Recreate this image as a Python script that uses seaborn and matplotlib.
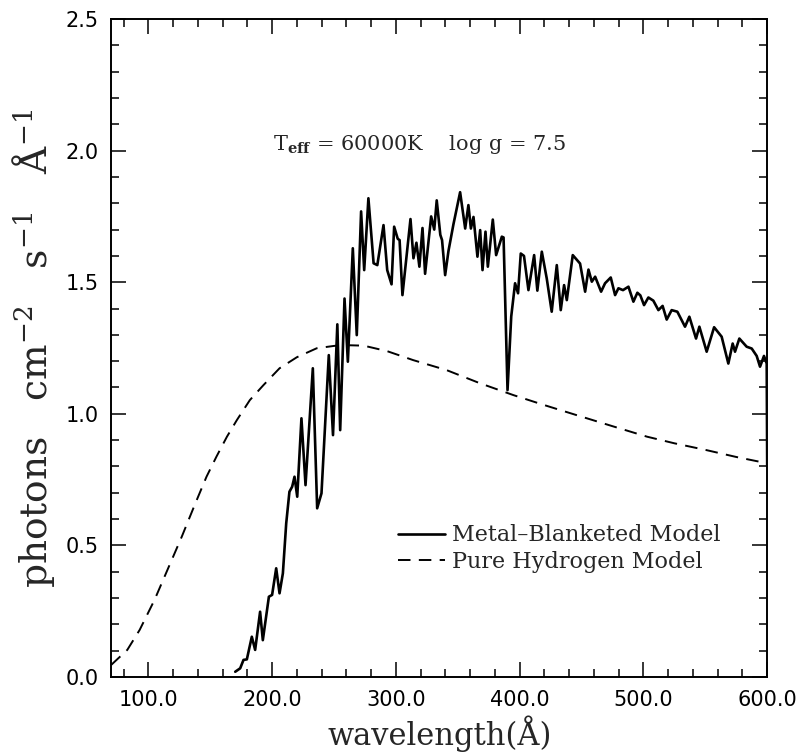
import matplotlib
matplotlib.use("Agg")
import pandas as pd
import matplotlib.pyplot as plt
from matplotlib.ticker import MultipleLocator, FormatStrFormatter
import seaborn as sns

# Metal-blanketed model spectrum
wave_metal = [170.2, 174.2, 176.9, 179.6, 183.6, 186.3, 190.3, 192.5, 197.4, 200.0,
              203.3, 206.0, 208.7, 211.4, 214.0, 216.2, 218.1, 220.3, 223.7, 227.0,
              232.9, 236.4, 239.9, 245.8, 249.2, 252.7, 255.0, 258.5, 261.2, 265.2,
              268.4, 271.9, 274.4, 277.8, 282.0, 285.0, 290.0, 293.0, 296.5, 298.6,
              301.5, 303.0, 305.3, 311.8, 314.2, 316.6, 319.0, 321.5, 323.6, 328.5,
              331.0, 333.0, 335.9, 337.3, 339.8, 342.5, 346.5, 351.9, 356.0, 358.6,
              360.6, 362.7, 365.9, 368.1, 370.0, 372.4, 374.3, 378.3, 381.0, 385.6,
              387.0, 390.2, 393.2, 396.3, 398.7, 400.9, 403.5, 407.1, 411.7, 414.3,
              417.9, 421.9, 425.9, 430.0, 433.2, 435.9, 438.1, 442.9, 448.8, 452.9,
              455.6, 458.3, 461.0, 465.8, 469.0, 473.6, 477.1, 479.8, 483.5, 487.9,
              491.9, 495.1, 497.5, 500.5, 504.0, 508.0, 512.1, 515.5, 518.8, 522.8,
              527.4, 533.6, 537.1, 542.5, 545.2, 551.1, 557.1, 563.2, 568.6, 572.1,
              574.0, 577.5, 583.4, 587.5, 591.5, 594.2, 597.4, 599.6, 600.0]
flux_metal = [0.020, 0.033, 0.065, 0.067, 0.153, 0.103, 0.248, 0.140, 0.305, 0.312,
              0.413, 0.318, 0.394, 0.584, 0.704, 0.723, 0.761, 0.685, 0.983, 0.729,
              1.173, 0.641, 0.698, 1.223, 0.919, 1.340, 0.938, 1.438, 1.198, 1.629,
              1.299, 1.769, 1.546, 1.819, 1.572, 1.565, 1.717, 1.546, 1.492, 1.711,
              1.665, 1.660, 1.451, 1.740, 1.591, 1.650, 1.559, 1.706, 1.532, 1.750,
              1.700, 1.811, 1.680, 1.660, 1.527, 1.619, 1.720, 1.842, 1.704, 1.793,
              1.704, 1.748, 1.597, 1.698, 1.546, 1.692, 1.559, 1.738, 1.603, 1.673,
              1.670, 1.090, 1.370, 1.496, 1.458, 1.609, 1.600, 1.470, 1.603, 1.468,
              1.616, 1.514, 1.388, 1.565, 1.394, 1.489, 1.432, 1.603, 1.571, 1.464,
              1.548, 1.502, 1.521, 1.464, 1.496, 1.518, 1.451, 1.477, 1.470, 1.483,
              1.426, 1.460, 1.450, 1.413, 1.442, 1.430, 1.394, 1.410, 1.358, 1.394,
              1.388, 1.331, 1.369, 1.286, 1.331, 1.236, 1.329, 1.293, 1.191, 1.267,
              1.236, 1.286, 1.255, 1.248, 1.220, 1.179, 1.220, 1.191, 0.800]

# Pure hydrogen model spectrum
wave_hydrogen = [70, 83, 93, 105, 116, 127, 138, 147, 155, 163.5, 171.5, 182, 193,
                 206, 220, 236, 250, 258, 274, 293, 314, 341, 368, 395, 420, 446,
                 475, 503, 525, 551, 575, 600]
flux_hydrogen = [0.046, 0.103, 0.179, 0.293, 0.413, 0.533, 0.660, 0.761, 0.837, 0.913,
                 0.976, 1.052, 1.109, 1.173, 1.215, 1.249, 1.258, 1.261, 1.259, 1.238,
                 1.204, 1.166, 1.116, 1.071, 1.033, 0.995, 0.953, 0.913, 0.888, 0.862,
                 0.836, 0.812]

metal = pd.DataFrame({"wavelength": wave_metal, "flux": flux_metal})
hydrogen = pd.DataFrame({"wavelength": wave_hydrogen, "flux": flux_hydrogen})

sns.set_style("ticks")
plt.rcParams["font.family"] = ["DejaVu Serif"]
plt.rcParams["mathtext.fontset"] = "dejavuserif"
plt.rcParams["lines.scale_dashes"] = False

fig = plt.figure(figsize=(8, 7.55), dpi=100)
ax = fig.add_axes([0.139, 0.1033, 0.82, 0.8715])

sns.lineplot(data=metal, x="wavelength", y="flux", ax=ax, color="black",
             linewidth=1.9, label="Metal\u2013Blanketed Model")
sns.lineplot(data=hydrogen, x="wavelength", y="flux", ax=ax, color="black",
             linewidth=1.4, linestyle=(0, (9, 6)), label="Pure Hydrogen Model")

ax.set_xlim(70, 600)
ax.set_ylim(0, 2.5)

# ticks on all sides, pointing in
ax.xaxis.set_major_locator(MultipleLocator(100))
ax.xaxis.set_minor_locator(MultipleLocator(20))
ax.yaxis.set_major_locator(MultipleLocator(0.5))
ax.yaxis.set_minor_locator(MultipleLocator(0.1))
ax.xaxis.set_major_formatter(FormatStrFormatter("%.1f"))
ax.yaxis.set_major_formatter(FormatStrFormatter("%.1f"))
ax.tick_params(which="both", direction="in", top=True, right=True, width=1.1,
               colors="black")
ax.tick_params(which="major", length=11, labelsize=15, pad=9)
ax.tick_params(which="minor", length=6)
for lab in ax.get_xticklabels() + ax.get_yticklabels():
    lab.set_family("DejaVu Sans")
for sp in ax.spines.values():
    sp.set_linewidth(1.4)
    sp.set_color("black")

ax.set_xlabel("wavelength(Å)", fontsize=22)
ax.set_ylabel(r"photons   cm$^{-2}$   s$^{-1}$   Å$^{-1}$", fontsize=27, labelpad=6)

ax.text(0.247, 0.801, r"T$_{\mathbf{eff}}$ = 60000K    log g = 7.5", transform=ax.transAxes,
        fontsize=15, ha="left", va="baseline")

ax.legend(loc="upper left", bbox_to_anchor=(0.4375, 0.232), frameon=False, fontsize=16,
          handlelength=2.1, handletextpad=0.3, labelspacing=0.22, borderpad=0,
          borderaxespad=0)

fig.savefig("out.png", dpi=100)
